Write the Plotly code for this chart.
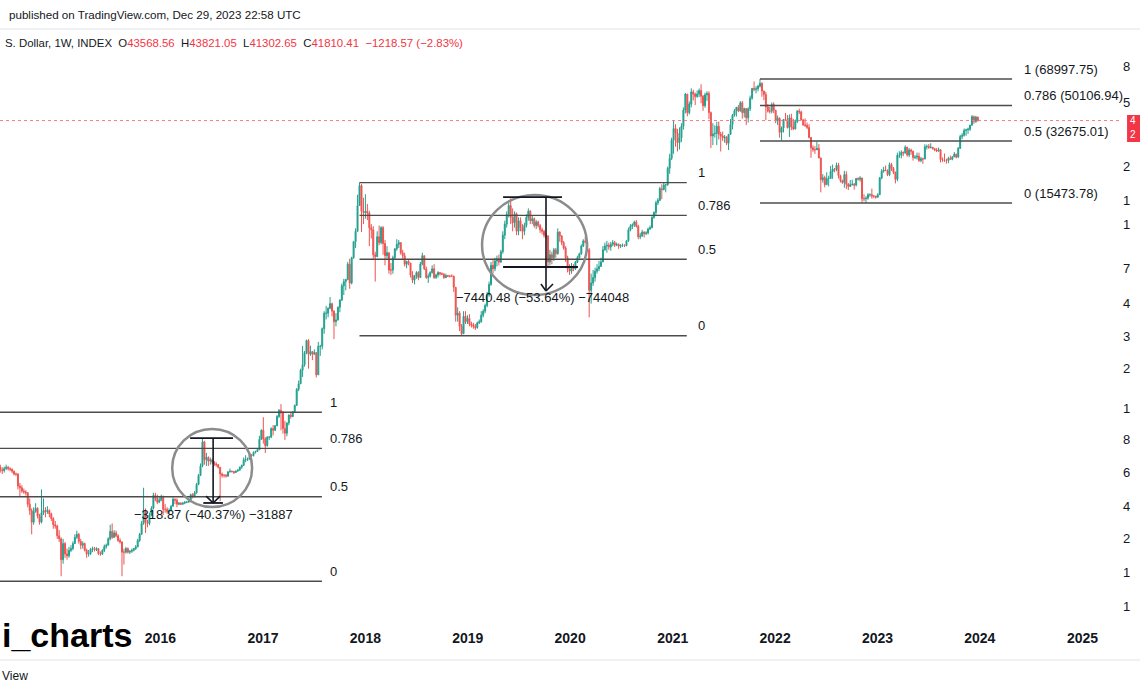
import math
import pandas as pd
import plotly.graph_objects as go

# weekly BTC index candles, first week starts 2014-06-09
week_start = "2014-06-09"
first_open = 640

closes = [
    # 2014 (from Jun 9)
    620, 615, 630, 640, 630, 625, 610, 590, 590, 510, 500, 480, 475, 470, 410, 380, 330, 375, 390, 355,
    330, 370, 380, 375, 380, 365, 345, 320, 315, 280,
    # 2015
    270, 210, 255, 225, 220, 235, 240, 255, 275, 285, 262, 250, 255, 235, 225, 226, 238, 240, 237, 240,
    226, 225, 235, 246, 250, 270, 295, 275, 290, 280, 265, 260, 230, 230, 240, 230, 232, 235, 240, 245,
    265, 285, 325, 380, 330, 325, 360, 390, 455, 440, 420, 430,
    # 2016
    445, 385, 385, 375, 380, 400, 435, 430, 410, 415, 410, 415, 420, 420, 430, 460, 450, 470, 520, 580,
    650, 870, 700, 720, 690, 700, 680, 665, 660, 640, 590, 580, 580, 575, 605, 610, 608, 600, 612, 618,
    640, 655, 700, 705, 705, 740, 735, 765, 775, 790, 895, 1000,
    # 2017
    900, 830, 920, 920, 1020, 1000, 1055, 1180, 1270, 1230, 1020, 965, 1090, 1200, 1180, 1250, 1350, 1640, 1750, 2060,
    2200, 2550, 2950, 2500, 2580, 2500, 2550, 1950, 2750, 2750, 3400, 4100, 4100, 4350, 4600, 4200, 3700, 3780, 4400, 4800,
    5700, 6000, 6150, 7400, 5900, 8000, 9700, 11000, 15000, 19100, 14000, 13800,
    # 2018
    14000, 13700, 11500, 11200, 8300, 8100, 10300, 9600, 11500, 9500, 8200, 8500, 6900, 6900, 8000, 8900, 9400, 9600, 8500, 8200,
    7400, 7650, 7500, 6500, 6100, 6400, 6700, 6300, 7400, 8200, 7000, 6300, 6400, 6700, 7000, 6300, 6500, 6700, 6600, 6550,
    6300, 6450, 6400, 6400, 6400, 5600, 4000, 4100, 3500, 3200, 3950, 3700,
    # 2019
    3850, 3600, 3550, 3500, 3450, 3650, 3700, 4000, 4200, 4500, 5100, 5800, 7300, 7000, 7700, 7900, 7600, 8600, 10500, 12000,
    13500, 15000, 13000, 12200, 13600, 11000, 12500, 11500, 11000, 11800, 13000, 14000, 12500, 12800, 11800, 12300, 11800, 11200, 11000, 10500,
    10400, 7600, 8300, 8000, 8800, 8400, 10900, 10400, 9600, 9000, 8000, 7000,
    # 2020
    6800, 7200, 7000, 7600, 8000, 8400, 9200, 9800, 9700, 8800, 5400, 5900, 6300, 6800, 7000, 7200, 7600, 8800, 9200, 9300,
    9100, 9400, 9600, 9300, 9400, 9200, 9300, 9300, 9250, 9800, 11200, 11700, 11900, 12300, 11700, 10300, 10400, 10900, 10700, 10800,
    11300, 11500, 13000, 13800, 15500, 16000, 18400, 18200, 19200, 19300, 23500, 26500, 33000,
    # 2021
    38000, 36000, 32000, 34000, 39000, 47500, 57500, 46000, 51000, 59000, 57500, 55800, 57500, 60000, 56000, 50000, 57000, 58000, 46000, 34700,
    35600, 35800, 39000, 35500, 34700, 34000, 34300, 31800, 35400, 39800, 44600, 47000, 49000, 47000, 51800, 46000, 48300, 43200, 48200, 54700,
    61600, 60900, 61300, 63300, 65500, 59700, 57200, 49300, 46800, 46800, 50800, 47300,
    # 2022
    41700, 43000, 36300, 38200, 42400, 42200, 38400, 43200, 38800, 37800, 41300, 46800, 46400, 42200, 39700, 39500, 38500, 34100, 30100, 29400,
    29400, 29900, 26600, 20500, 21000, 19300, 20800, 20800, 22600, 23300, 23200, 24400, 21500, 20300, 19800, 21800, 19400, 18900, 19300, 19400,
    19200, 20800, 20600, 20900, 16300, 16300, 16400, 17100, 17100, 16800, 16800, 16600,
    # 2023
    17100, 20900, 22700, 23000, 22900, 21800, 24600, 23500, 22400, 20600, 27500, 27500, 28500, 28300, 30300, 27600, 29300, 28900, 26800, 26900,
    27200, 25800, 26400, 26300, 30500, 30600, 30200, 30300, 29800, 29300, 29000, 29400, 26100, 26000, 25800, 25800, 26500, 26200, 27000, 27900,
    26900, 29900, 34500, 35000, 37100, 37400, 37700, 39500, 43800, 41400, 43568.56, 41810.41,
]

highs = [
    # 2014
    660, 640, 645, 660, 650, 640, 630, 615, 600, 595, 530, 515, 495, 485, 475, 440, 390, 395, 415, 395,
    365, 490, 440, 395, 400, 385, 370, 350, 335, 320,
    # 2015
    300, 275, 270, 260, 240, 245, 250, 262, 285, 298, 290, 270, 262, 258, 240, 236, 242, 246, 245, 244,
    241, 232, 238, 252, 255, 275, 320, 325, 300, 298, 285, 272, 262, 240, 245, 243, 236, 240, 242, 250,
    270, 290, 335, 500, 390, 340, 370, 400, 470, 470, 460, 445,
    # 2016
    460, 455, 410, 395, 390, 405, 445, 440, 440, 420, 420, 420, 425, 425, 435, 465, 468, 480, 530, 590,
    670, 910, 880, 760, 730, 720, 710, 690, 680, 665, 640, 600, 590, 590, 612, 630, 615, 612, 615, 625,
    645, 660, 720, 740, 720, 750, 750, 775, 780, 795, 935, 1010,
    # 2017
    1170, 920, 930, 930, 1035, 1065, 1065, 1200, 1290, 1370, 1260, 1120, 1100, 1210, 1230, 1260, 1360, 1660, 1820, 2100,
    2760, 2600, 2980, 3000, 2770, 2600, 2650, 2550, 2900, 2800, 3450, 4200, 4480, 4400, 4980, 4650, 4250, 4100, 4450, 4850,
    5860, 6200, 6200, 7600, 7900, 8100, 9800, 11400, 17100, 19783, 19500, 16500,
    # 2018
    17200, 15300, 14100, 12000, 11700, 8600, 11000, 11800, 11700, 11700, 9900, 9200, 8500, 7500, 8200, 9000, 10000, 9900, 9600, 8800,
    8500, 7700, 7800, 7500, 6800, 6500, 6800, 6800, 7600, 8500, 8200, 7200, 6600, 6800, 7300, 7400, 6600, 6800, 6700, 6700,
    6650, 6600, 6500, 6500, 6550, 6450, 5600, 4400, 4200, 3600, 4200, 4200,
    # 2019
    4000, 4050, 3700, 3650, 3600, 3700, 3800, 4200, 4300, 4600, 5300, 6000, 7600, 7900, 8000, 8200, 8300, 8800, 11000, 12500,
    14000, 15500, 16400, 14500, 14000, 13800, 13000, 13000, 12000, 12200, 13500, 14500, 14200, 13300, 13000, 12600, 12500, 12000, 11500, 11200,
    10800, 10500, 8800, 8600, 9000, 9000, 11400, 11000, 10500, 9800, 9200, 8200,
    # 2020
    7400, 7500, 7400, 7700, 8200, 8500, 9400, 10000, 10300, 9900, 9000, 6600, 6900, 7100, 7400, 7700, 8000, 9200, 9600, 9800,
    9600, 9700, 9900, 9800, 9600, 9500, 9400, 9500, 9400, 9900, 11500, 12000, 12100, 12500, 12600, 11900, 10800, 11200, 11000, 11000,
    11500, 11800, 13300, 14000, 15900, 16400, 18800, 19400, 19900, 19500, 24000, 28000, 34000,
    # 2021
    41900, 40000, 37800, 38500, 40500, 49000, 58300, 57500, 52600, 61700, 60600, 58500, 60100, 61500, 64800, 57000, 58500, 59500, 59500, 46600,
    40500, 39500, 41200, 41300, 36500, 36600, 35100, 34600, 35500, 42600, 45300, 48100, 49300, 50500, 52800, 52900, 48800, 48500, 49000, 56500,
    62000, 67000, 63300, 64300, 68997.75, 66300, 59900, 59100, 51000, 49400, 51900, 52100,
    # 2022
    47600, 44400, 43500, 38900, 42600, 45800, 44700, 45000, 45400, 42600, 42300, 47400, 48200, 47100, 42400, 42900, 40800, 40000, 34200, 31000,
    30700, 32400, 31500, 26800, 21900, 21500, 22400, 21500, 24200, 24600, 23600, 25200, 25100, 21800, 20500, 22800, 22700, 19700, 20400, 20500,
    19700, 20900, 21100, 21400, 21000, 17200, 16800, 17400, 17400, 18400, 17000, 16900,
    # 2023
    17400, 21200, 23300, 23900, 24300, 23200, 25200, 25100, 23900, 22600, 28400, 28900, 29200, 28800, 31000, 30500, 30000, 29800, 29000, 27600,
    28400, 28400, 27000, 26700, 31400, 31300, 31500, 31800, 30400, 30100, 30000, 30200, 29500, 26800, 28100, 26400, 27000, 27400, 27200, 28600,
    28000, 30400, 35200, 35900, 38000, 37900, 38400, 39800, 44700, 44400, 44300, 43821.05,
]

lows = [
    # 2014
    600, 590, 600, 620, 615, 610, 595, 580, 575, 490, 450, 470, 465, 455, 395, 360, 285, 320, 370, 345,
    320, 325, 360, 350, 365, 350, 335, 305, 305, 270,
    # 2015
    260, 172, 200, 215, 210, 215, 230, 235, 255, 270, 255, 238, 240, 232, 215, 218, 222, 230, 232, 233,
    222, 220, 222, 230, 240, 250, 265, 270, 273, 275, 260, 255, 172, 198, 226, 226, 225, 228, 232, 236,
    244, 260, 283, 320, 290, 310, 318, 355, 385, 425, 410, 415,
    # 2016
    425, 360, 370, 365, 365, 375, 398, 410, 395, 405, 405, 408, 410, 415, 418, 428, 440, 445, 465, 515,
    575, 640, 660, 650, 650, 660, 665, 650, 645, 630, 425, 565, 565, 565, 570, 600, 600, 590, 598, 605,
    615, 628, 650, 680, 690, 700, 725, 730, 755, 770, 790, 890,
    # 2017
    850, 760, 820, 890, 910, 940, 990, 1050, 1160, 1000, 960, 890, 930, 1060, 1150, 1170, 1240, 1340, 1600, 1750,
    1900, 2150, 2500, 2100, 2450, 2330, 2480, 1890, 1950, 2450, 2650, 3200, 3800, 3900, 4300, 3950, 3000, 3500, 3750, 4150,
    4750, 5100, 5400, 6100, 5500, 5800, 7900, 9000, 11000, 15000, 10900, 12000,
    # 2018
    12800, 12600, 9200, 10100, 7900, 6000, 8100, 9300, 9400, 8300, 7300, 7900, 6600, 6500, 6600, 7900, 8700, 9000, 8300, 7900,
    7200, 7050, 7300, 6300, 5900, 5800, 6200, 6100, 6300, 7300, 6900, 6200, 5900, 6300, 6600, 6200, 6200, 6300, 6450, 6500,
    6200, 6250, 6350, 6300, 6350, 5300, 3700, 3700, 3300, 3122, 3200, 3600,
    # 2019
    3600, 3500, 3450, 3400, 3350, 3400, 3600, 3650, 3900, 4100, 4400, 5000, 5700, 6600, 6800, 7200, 7300, 7500, 8400, 10000,
    11500, 13000, 12000, 11000, 11500, 10500, 10500, 11000, 10000, 10500, 11500, 12500, 12000, 12000, 11500, 11300, 11500, 10800, 10600, 10200,
    10000, 7200, 7300, 7400, 7700, 8000, 8300, 9700, 9300, 8800, 7600, 6700,
    # 2020
    6500, 6600, 6800, 6900, 7500, 7900, 8300, 9100, 9500, 8600, 3900, 4600, 5700, 6000, 6600, 6800, 7200, 7600, 8700, 8500,
    8800, 8700, 9200, 9100, 9200, 8900, 9000, 9100, 9100, 9200, 9700, 11000, 11300, 11600, 11500, 10000, 10000, 10300, 10200, 10500,
    10600, 11200, 11400, 12800, 13200, 15100, 15800, 16200, 18000, 17600, 19000, 22000, 26000,
    # 2021
    28000, 30500, 28800, 29500, 32300, 37500, 45600, 44000, 45000, 49000, 53300, 50400, 55000, 55500, 51500, 47000, 48800, 53000, 42600, 30000,
    31100, 34000, 31100, 33300, 28800, 32700, 32000, 31100, 29300, 35200, 37600, 43800, 43900, 46300, 46500, 42800, 43400, 39600, 40800, 46900,
    53800, 59500, 58000, 59500, 62300, 55700, 53500, 42000, 46000, 45500, 45600, 45700,
    # 2022
    40500, 39600, 34000, 32900, 36200, 41700, 38000, 34300, 37200, 37200, 37600, 40500, 45200, 41900, 39200, 38600, 37700, 33700, 26700, 28700,
    28000, 29300, 26600, 17600, 19800, 18700, 19300, 18900, 20800, 20700, 22400, 22700, 20800, 19800, 19500, 18600, 18300, 18100, 18800, 19100,
    18200, 18900, 20300, 20000, 15600, 15800, 15473.78, 16100, 16700, 16300, 16400, 16300,
    # 2023
    16500, 17100, 20600, 22300, 22700, 21400, 21400, 22800, 21900, 19600, 20100, 26600, 26500, 27200, 28000, 27100, 26900, 27700, 25800, 26300,
    26100, 25400, 25300, 24800, 26200, 29500, 29700, 29900, 29500, 28900, 28600, 28700, 25200, 25400, 25400, 24900, 25000, 26000, 25900, 26900,
    26500, 26800, 29700, 33400, 34500, 34800, 35600, 36900, 39400, 40200, 40600, 41302.65,
]

last_close = 41810.41

# fibonacci retracements (log scale): high, low, line start, line end, label date
fib_ratios = [1, 0.786, 0.5, 0]
upper_fib_prices = [68997.75, 50106.94, 32675.01, 15473.78]
fib_low_cycle = (1242, 162, "2013-11-25", "2017-07-30", "2017-08-21")
fib_mid_cycle = (19783, 3122, "2017-12-11", "2021-02-20", "2021-03-25")
fib_top_cycle = ("2021-11-08", "2024-04-25", "2024-05-30")

price_ticks = [80000, 52000, 24000, 16000, 12000, 7000, 4600, 3100, 2100, 1300, 890, 600, 400, 270, 180, 120]
year_ticks = list(range(2016, 2026))

dates = pd.date_range(week_start, periods=len(closes), freq="7D")
opens = [first_open] + closes[:-1]

INK = "#131722"
RED = "#f23645"
LINE = "#4c4c4c"
FONT = "Liberation Sans, Arial, sans-serif"

fig = go.Figure(go.Candlestick(
    x=dates, open=opens, high=highs, low=lows, close=closes,
    increasing=dict(line=dict(color="#22a08f", width=1), fillcolor="#22a08f"),
    decreasing=dict(line=dict(color="#ef5350", width=1), fillcolor="#ef5350"),
    whiskerwidth=0, showlegend=False, hoverinfo="skip",
))

shapes = []
annotations = []


def hline(x0, x1, y, color=LINE, width=1.4):
    shapes.append(dict(type="line", xref="x", yref="y", x0=x0, x1=x1, y0=y, y1=y,
                       line=dict(color=color, width=width), layer="above"))


def seg(x0, y0, x1, y1, color=INK, width=1.6):
    shapes.append(dict(type="line", xref="x", yref="y", x0=x0, x1=x1, y0=y0, y1=y1,
                       line=dict(color=color, width=width), layer="above"))


def text_at(x, price, text, xanchor="left", yshift=10, size=13):
    annotations.append(dict(x=x, y=math.log10(price), xref="x", yref="y", text=text,
                            showarrow=False, xanchor=xanchor, yanchor="middle", yshift=yshift,
                            font=dict(size=size, color=INK, family=FONT)))


def log_fib(hi, lo, r):
    return 10 ** (math.log10(lo) + r * (math.log10(hi) - math.log10(lo)))


for hi, lo, x0, x1, lx in (fib_low_cycle, fib_mid_cycle):
    for r in fib_ratios:
        p = log_fib(hi, lo, r)
        hline(x0, x1, p)
        text_at(lx, p, f"{r:g}")

x0, x1, lx = fib_top_cycle
for r, p in zip(fib_ratios, upper_fib_prices):
    hline(x0, x1, p)
    text_at(lx, p, f"{r:g} ({p:.2f})")

# circled pull-backs
CIRCLE = "#8c8c8c"
shapes.append(dict(type="circle", xref="x", yref="y", x0="2016-02-12", x1="2016-11-23",
                   y0=396, y1=1015, line=dict(color=CIRCLE, width=2.5), layer="above"))
shapes.append(dict(type="circle", xref="x", yref="y", x0="2019-02-21", x1="2020-03-01",
                   y0=5104, y1=17040, line=dict(color=CIRCLE, width=2.5), layer="above"))

# price range measure, 2016
hline("2016-04-16", "2016-09-16", 910, color=INK, width=1.8)
hline("2016-06-02", "2016-08-11", 416, color=INK, width=1.8)
seg("2016-07-07", 910, "2016-07-07", 416)
seg("2016-06-12", 452, "2016-07-07", 416)
seg("2016-08-01", 452, "2016-07-07", 416)
text_at("2016-07-07", 360, "\u2212318.87 (\u221240.37%) \u221231887", xanchor="center", yshift=0)

# price range measure, 2019
hline("2019-05-07", "2019-12-03", 16630, color=INK, width=1.8)
hline("2019-05-07", "2020-01-29", 7154, color=INK, width=1.8)
seg("2019-10-07", 16630, "2019-10-07", 5357)
seg("2019-09-19", 5829, "2019-10-07", 5357)
seg("2019-11-01", 5829, "2019-10-07", 5357)
text_at("2019-09-26", 4982, "\u22127440.48 (\u221253.64%) \u2212744048", xanchor="center", yshift=0)

# last price line and tag
shapes.append(dict(type="line", xref="paper", yref="y", x0=0, x1=1, y0=last_close, y1=last_close,
                   line=dict(color="#f07d87", width=1, dash="dot"), layer="above"))
shapes.append(dict(type="rect", xref="paper", yref="paper", x0=1.0045, x1=1.017, y0=0.8127, y1=0.8579,
                   fillcolor=RED, line=dict(width=0), layer="above"))
for txt, yy in (("4", 0.8485), ("2", 0.8255)):
    annotations.append(dict(x=1.0053, y=yy, xref="paper", yref="paper", text=txt, showarrow=False,
                            xanchor="left", yanchor="middle", font=dict(size=10, color="white", family=FONT)))

# separators of the TradingView frame
for yy in (1.0017, -0.0535):
    shapes.append(dict(type="line", xref="paper", yref="paper", x0=0, x1=1.016, y0=yy, y1=yy,
                       line=dict(color="#e0e3eb", width=1)))

legend = ("S. Dollar, 1W, INDEX\u00a0\u00a0O<span style='color:%s'>43568.56</span>"
          "\u00a0\u00a0H<span style='color:%s'>43821.05</span>"
          "\u00a0\u00a0L<span style='color:%s'>41302.65</span>"
          "\u00a0\u00a0C<span style='color:%s'>41810.41</span>"
          "\u00a0\u00a0<span style='color:%s'>\u22121218.57 (\u22122.83%%)</span>") % ((RED,) * 5)

annotations += [
    dict(x=0.0062, y=1.0251, text="published on TradingView.com, Dec 29, 2023 22:58 UTC", size=11.6),
    dict(x=0.0027, y=0.9783, text=legend, size=11.4),
    dict(x=0.0, y=-0.0803, text="View", size=12),
]
for a in annotations[-3:]:
    size = a.pop("size")
    a.update(xref="paper", yref="paper", showarrow=False, xanchor="left", yanchor="middle",
             font=dict(size=size, color=INK, family=FONT))

annotations.append(dict(x=0.0, y=-0.011, xref="paper", yref="paper", text="i_charts", showarrow=False,
                        xanchor="left", yanchor="middle",
                        font=dict(size=34, color="#000000", weight="bold", family=FONT)))

fig.update_layout(
    width=1140, height=694,
    margin=dict(l=0, r=18, t=30, b=66),
    paper_bgcolor="white", plot_bgcolor="white",
    shapes=shapes, annotations=annotations,
    showlegend=False,
    xaxis=dict(
        type="date", range=["2014-06-08", "2025-05-22"], rangeslider=dict(visible=False),
        tickvals=[f"{y}-01-01" for y in year_ticks], ticktext=[str(y) for y in year_ticks],
        tickfont=dict(size=14, color=INK, weight="bold", family=FONT),
        showgrid=False, zeroline=False, showline=False, ticks="", automargin=False,
    ),
    yaxis=dict(
        type="log", side="right", range=[1.9645, 5.0954],
        tickvals=price_ticks, ticktext=[str(v)[0] for v in price_ticks],
        tickfont=dict(size=13, color=INK, family=FONT),
        showgrid=False, zeroline=False, showline=False, ticks="", automargin=False,
    ),
)

# page without the default body margin, so the chart fills the window exactly
fig.write_html("out.html", config={"displayModeBar": False},
               post_script="document.body.style.margin='0';"
                           "document.body.style.overflow='hidden';")
